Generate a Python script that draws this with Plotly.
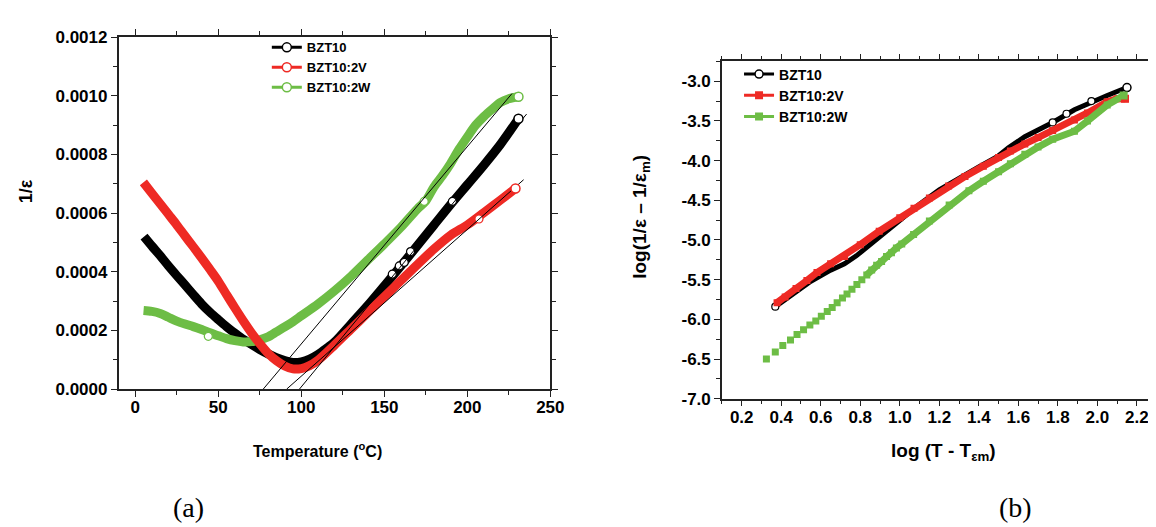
import plotly.graph_objects as go

W, H = 1156, 527

# ---- panel (a): 1/eps vs temperature ----
T_bzt10 = [5.3, 10, 15, 20, 25, 30, 35, 40, 45, 50, 55, 60, 65, 70, 75, 80, 85, 90, 95, 100,
           105, 110, 115, 120, 130, 140, 150, 160, 170, 180, 190, 200, 210, 220, 230.8]
v_bzt10 = [0.000520, 0.000488, 0.000455, 0.000420, 0.000387, 0.000355, 0.000322, 0.000290,
           0.000262, 0.000237, 0.000213, 0.000191, 0.000170, 0.000152, 0.000135, 0.000120,
           0.000107, 0.000097, 0.000091, 0.000093, 0.000102, 0.000118, 0.000138, 0.000160,
           0.000222, 0.000285, 0.000352, 0.000420, 0.000490, 0.000560, 0.000630, 0.000697,
           0.000764, 0.000835, 0.000922]

T_2v = [4.9, 10, 15, 20, 25, 30, 35, 40, 45, 50, 55, 60, 65, 70, 75, 80, 85, 90, 95, 100,
        105, 110, 120, 130, 140, 150, 160, 170, 180, 190, 200, 210, 220, 229]
v_2v = [0.000705, 0.000668, 0.000632, 0.000596, 0.000560, 0.000522, 0.000485, 0.000447,
        0.000408, 0.000368, 0.000322, 0.000277, 0.000233, 0.000192, 0.000155, 0.000122,
        0.000097, 0.000079, 0.000069, 0.000070, 0.000080, 0.000098, 0.000150, 0.000205,
        0.000260, 0.000315, 0.000370, 0.000425, 0.000478, 0.000525, 0.000560, 0.000602,
        0.000645, 0.000684]

T_2w = [5, 10, 15, 20, 25, 30, 35, 40, 45, 50, 55, 60, 65, 70, 75, 80, 85, 90, 95, 100,
        110, 120, 130, 140, 150, 160, 170, 175, 180, 185, 190, 195, 200, 205, 210, 215,
        220, 225, 230.8]
v_2w = [0.000268, 0.000265, 0.000258, 0.000245, 0.000232, 0.000222, 0.000213, 0.000203,
        0.000192, 0.000182, 0.000172, 0.000165, 0.000161, 0.000162, 0.000168, 0.000178,
        0.000195, 0.000212, 0.000230, 0.000250, 0.000290, 0.000335, 0.000385, 0.000440,
        0.000495, 0.000552, 0.000615, 0.000642, 0.000690, 0.000728, 0.000770, 0.000818,
        0.000860, 0.000900, 0.000930, 0.000955, 0.000978, 0.000990, 0.000997]

# open circles that stay visible on the bands
circ_T_bzt10 = [154.8, 159, 162, 165.8, 191]
circ_v_bzt10 = [0.000392, 0.000420, 0.000432, 0.000469, 0.000640]
circ_T_2v = [207]
circ_v_2v = [0.000580]
circ_T_2w = [44, 174]
circ_v_2w = [0.000180, 0.000640]

# linear fits (thin black lines)
fit_T = [[77.1, 226.9], [98.9, 235.7], [91.2, 233.9]]
fit_v = [[0.0, 0.001008], [0.0, 0.000938], [0.0, 0.000714]]

# ---- panel (b): log(1/eps - 1/eps_m) vs log(T - T_em) ----
lx_bzt10 = [0.37, 0.45, 0.55, 0.65, 0.72, 0.78, 0.83, 0.90, 1.00, 1.10, 1.20, 1.30, 1.40,
            1.50, 1.55, 1.633, 1.70, 1.774, 1.884, 1.97, 2.05, 2.15]
ly_bzt10 = [-5.84, -5.69, -5.52, -5.38, -5.30, -5.20, -5.10, -4.94, -4.74, -4.55, -4.37,
            -4.22, -4.08, -3.94, -3.84, -3.70, -3.62, -3.52, -3.36, -3.26, -3.18, -3.08]
lcirc_x_bzt10 = [0.37, 1.774, 1.844, 1.97]
lcirc_y_bzt10 = [-5.84, -3.52, -3.41, -3.25]

lx_2v = [0.379, 0.42, 0.475, 0.53, 0.581, 0.65, 0.721, 0.80, 0.896, 1.0, 1.072, 1.15, 1.247,
         1.33, 1.423, 1.5, 1.56, 1.633, 1.70, 1.774, 1.884, 1.95, 2.05, 2.10, 2.14]
ly_2v = [-5.79, -5.72, -5.61, -5.51, -5.41, -5.30, -5.21, -5.06, -4.89, -4.72, -4.60, -4.47,
         -4.32, -4.20, -4.07, -3.96, -3.88, -3.79, -3.71, -3.62, -3.49, -3.40, -3.26, -3.22,
         -3.22]

lx_2w = [0.325, 0.37, 0.408, 0.447, 0.48, 0.513, 0.545, 0.575, 0.603, 0.633, 0.658, 0.683,
         0.71, 0.733, 0.758, 0.783, 0.808, 0.833, 0.858, 0.883, 0.908, 0.933, 0.958, 0.983,
         1.01, 1.07, 1.15, 1.25, 1.35, 1.423, 1.5, 1.56, 1.633, 1.70, 1.774, 1.884, 1.95,
         2.05, 2.133]
ly_2w = [-6.50, -6.41, -6.33, -6.26, -6.19, -6.13, -6.07, -6.02, -5.96, -5.90, -5.85, -5.79,
         -5.73, -5.68, -5.62, -5.56, -5.50, -5.44, -5.38, -5.32, -5.27, -5.21, -5.16, -5.10,
         -5.05, -4.93, -4.76, -4.56, -4.38, -4.26, -4.14, -4.04, -3.92, -3.83, -3.73, -3.63,
         -3.50, -3.30, -3.18]

names = ['BZT10', 'BZT10:2V', 'BZT10:2W']
black, red, green = '#000000', '#ee2a24', '#6dbd45'

yticks_b = [-7.0, -6.5, -6.0, -5.5, -5.0, -4.5, -4.0, -3.5, -3.0]
yticktext_b = ['-7.0', '-6.5', '-6.0', '-5.5', '-5.0', '-4.5', '-4.0', '-3.5', '-3.0']

fig = go.Figure()

# panel (a) bands
band = dict(width=9, shape='spline', smoothing=0.8)
fig.add_trace(go.Scatter(x=T_bzt10, y=v_bzt10, mode='lines', line=dict(color=black, **band),
                         showlegend=False, xaxis='x', yaxis='y'))
fig.add_trace(go.Scatter(x=T_2w, y=v_2w, mode='lines', line=dict(color=green, **band),
                         showlegend=False, xaxis='x', yaxis='y'))
fig.add_trace(go.Scatter(x=T_2v, y=v_2v, mode='lines', line=dict(color=red, **band),
                         showlegend=False, xaxis='x', yaxis='y'))
for cx, cy, c in [(circ_T_bzt10, circ_v_bzt10, black), (circ_T_2v, circ_v_2v, red),
                  (circ_T_2w, circ_v_2w, green)]:
    fig.add_trace(go.Scatter(x=cx, y=cy, mode='markers', showlegend=False, xaxis='x', yaxis='y',
                             marker=dict(symbol='circle', size=8, color='white',
                                         line=dict(color=c, width=1.2))))
for fx, fv in zip(fit_T, fit_v):
    fig.add_trace(go.Scatter(x=fx, y=fv, mode='lines', line=dict(color='black', width=1),
                             showlegend=False, xaxis='x', yaxis='y'))
# end points carry the legend entries
for T, v, c, n in [(T_bzt10, v_bzt10, black, names[0]), (T_2v, v_2v, red, names[1]),
                   (T_2w, v_2w, green, names[2])]:
    fig.add_trace(go.Scatter(x=[T[-1]], y=[v[-1]], mode='lines+markers', name=n, legend='legend',
                             line=dict(color=c, width=3), xaxis='x', yaxis='y',
                             marker=dict(symbol='circle', size=9, color='white',
                                         line=dict(color=c, width=1.5))))

# panel (b)
fig.add_trace(go.Scatter(x=lx_bzt10, y=ly_bzt10, mode='lines', line=dict(color=black, width=5),
                         showlegend=False, xaxis='x2', yaxis='y2'))
fig.add_trace(go.Scatter(x=lcirc_x_bzt10, y=lcirc_y_bzt10, mode='markers', showlegend=False,
                         xaxis='x2', yaxis='y2',
                         marker=dict(symbol='circle', size=7, color='white',
                                     line=dict(color=black, width=1.2))))
fig.add_trace(go.Scatter(x=lx_2v, y=ly_2v, mode='lines+markers', line=dict(color=red, width=7),
                         marker=dict(symbol='square', size=7, color=red),
                         showlegend=False, xaxis='x2', yaxis='y2'))
fig.add_trace(go.Scatter(x=lx_2w[17:], y=ly_2w[17:], mode='lines', line=dict(color=green, width=7),
                         showlegend=False, xaxis='x2', yaxis='y2'))
fig.add_trace(go.Scatter(x=lx_2w, y=ly_2w, mode='markers',
                         marker=dict(symbol='square', size=7, color=green),
                         showlegend=False, xaxis='x2', yaxis='y2'))
fig.add_trace(go.Scatter(x=[lx_bzt10[-1]], y=[ly_bzt10[-1]], mode='lines+markers', name=names[0],
                         legend='legend2', line=dict(color=black, width=3), xaxis='x2', yaxis='y2',
                         marker=dict(symbol='circle', size=8, color='white',
                                     line=dict(color=black, width=1.5))))
fig.add_trace(go.Scatter(x=[lx_2v[-1]], y=[ly_2v[-1]], mode='lines+markers', name=names[1],
                         legend='legend2', line=dict(color=red, width=3), xaxis='x2', yaxis='y2',
                         marker=dict(symbol='square', size=8, color=red)))
fig.add_trace(go.Scatter(x=[lx_2w[-1]], y=[ly_2w[-1]], mode='lines+markers', name=names[2],
                         legend='legend2', line=dict(color=green, width=3), xaxis='x2', yaxis='y2',
                         marker=dict(symbol='square', size=8, color=green)))

tickfont = dict(family='Arial', size=17, color='black', weight='bold')
axis_common = dict(showline=True, linecolor='#222', linewidth=1.5, ticks='outside', ticklen=6,
                   tickwidth=1.2, tickcolor='#222', showgrid=False, zeroline=False,
                   tickfont=tickfont)

fig.update_layout(
    width=W, height=H, margin=dict(l=0, r=0, t=0, b=0),
    paper_bgcolor='white', plot_bgcolor='white',
    xaxis=dict(domain=[112 / W, 549 / W], range=[-10, 250], anchor='y', dtick=50, tick0=0,
               mirror='ticks', ticklabelstandoff=-4,
               minor=dict(dtick=25, ticks='outside', ticklen=4, tickcolor='#222'),
               **axis_common),
    yaxis=dict(domain=[1 - 386 / H, 1 - 21 / H], range=[0, 0.0012], anchor='x', dtick=0.0002,
               tickformat='.4f', mirror='ticks',
               minor=dict(dtick=0.0001, ticks='outside', ticklen=4, tickcolor='#222'),
               **axis_common),
    xaxis2=dict(domain=[722.7 / W, 1], range=[0.1, 2.2665], anchor='y2', dtick=0.2, tick0=0,
                tickformat='.1f', mirror='ticks', ticklabelstandoff=-4,
                minor=dict(dtick=0.1, ticks='outside', ticklen=4, tickcolor='#222'),
                **axis_common),
    yaxis2=dict(domain=[1 - 396 / H, 1 - 46 / H], range=[-7.0, -2.75], anchor='x2',
                tickvals=yticks_b, ticktext=yticktext_b,
                minor=dict(dtick=0.25, ticks='outside', ticklen=4, tickcolor='#222'),
                **axis_common),
    legend=dict(x=262 / W, y=1 - 16 / H, xanchor='left', yanchor='top', bgcolor='rgba(0,0,0,0)',
                font=dict(family='Arial', size=13, color='black', weight='bold'),
                tracegroupgap=0, itemwidth=30),
    legend2=dict(x=740 / W, y=1 - 43 / H, xanchor='left', yanchor='top', bgcolor='rgba(0,0,0,0)',
                 font=dict(family='Arial', size=14, color='black', weight='bold'),
                 tracegroupgap=0, itemwidth=30),
)

ann = [
    dict(text='1/ε', x=19, y=181, textangle=-90,
         font=dict(family='Arial', size=18, color='black', weight='bold')),
    dict(text='Temperature (<sup>o</sup>C)', x=313, y=449,
         font=dict(family='Arial', size=16, color='black', weight='bold')),
    dict(text='log(1/ε – 1/ε<sub>m</sub>)', x=640, y=207, textangle=-90,
         font=dict(family='Arial', size=19, color='black', weight='bold')),
    dict(text='log (T - T<sub>εm</sub>)', x=947, y=451,
         font=dict(family='Arial', size=19, color='black', weight='bold')),
    dict(text='(a)', x=183, y=509, font=dict(family='Liberation Serif', size=28, color='black')),
    dict(text='(b)', x=1020, y=509, font=dict(family='Liberation Serif', size=28, color='black')),
]
for a in ann:
    a['x'] = a['x'] / W
    a['y'] = 1 - a['y'] / H
    fig.add_annotation(xref='paper', yref='paper', showarrow=False, xanchor='center',
                       yanchor='middle', **a)

fig.write_html("out.html")
